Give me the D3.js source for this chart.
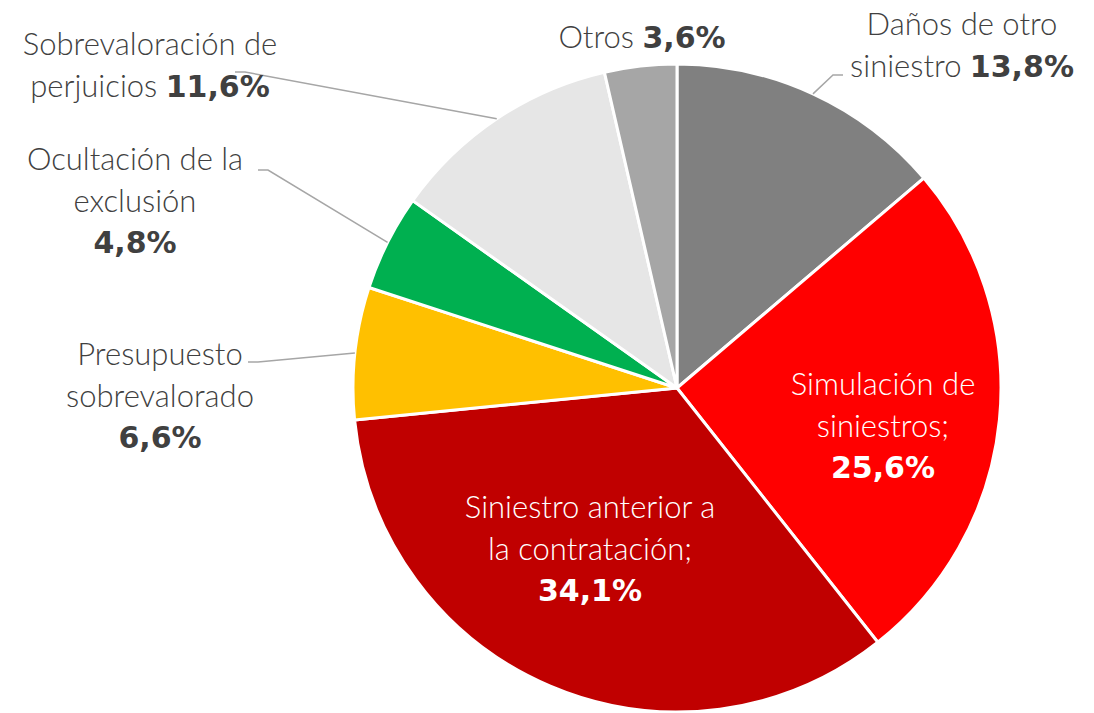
<!DOCTYPE html>
<html>
<head>
<meta charset="utf-8">
<script src="https://cdn.jsdelivr.net/npm/d3@7"></script>
<style>
  body { margin: 0; background: #fff; }
  svg text { font-family: Lato, "Open Sans", sans-serif; }
</style>
</head>
<body>
<div class="chart"></div>
<script>
const width = 1094;
const height = 713;

// data
const categories = [
  'Daños de otro siniestro',
  'Simulación de siniestros',
  'Siniestro anterior a la contratación',
  'Presupuesto sobrevalorado',
  'Ocultación de la exclusión',
  'Sobrevaloración de perjuicios',
  'Otros'
];
const values = [13.8, 25.6, 34.1, 6.6, 4.8, 11.6, 3.6];
const colors = ['#808080', '#ff0000', '#c00000', '#ffc000', '#00b050', '#e6e6e6', '#a6a6a6'];

// label text lines; "%" marks where the bold value goes
const labelLines = [
  ['Daños de otro', 'siniestro %'],
  ['Simulación de', 'siniestros;', '%'],
  ['Siniestro anterior a', 'la contratación;', '%'],
  ['Presupuesto', 'sobrevalorado', '%'],
  ['Ocultación de la', 'exclusión', '%'],
  ['Sobrevaloración de', 'perjuicios %'],
  ['Otros %']
];

// layout
const cx = 677, cy = 388, radius = 324;
const fontSize = 31;
const lineHeight = 41.5;
// label centre x, first baseline y, inside?, leader start (label side)
const labelPos = [
  { x: 962, y: 35, inside: false, leader: [843, 75] },
  { x: 883, y: 395, inside: true },
  { x: 590, y: 518, inside: true },
  { x: 160, y: 365, inside: false, leader: [248, 362] },
  { x: 135, y: 170, inside: false, leader: [258, 170] },
  { x: 150, y: 55, inside: false, leader: [235, 72] },
  { x: 642, y: 48, inside: false }
];

const fmt = v => d3.format('.1f')(v).replace('.', ',') + '%';

const svg = d3.select('.chart')
  .append('svg')
  .attr('width', width)
  .attr('height', height);

const pie = d3.pie().sort(null).value(d => d);
const arcs = pie(values);
const arc = d3.arc().innerRadius(0).outerRadius(radius);

const g = svg.append('g').attr('transform', `translate(${cx},${cy})`);

g.selectAll('path')
  .data(arcs)
  .enter()
  .append('path')
  .attr('d', arc)
  .attr('fill', (d, i) => colors[i])
  .attr('stroke', '#fff')
  .attr('stroke-width', 3)
  .attr('stroke-linejoin', 'round');

// leader lines from label to slice edge at mid angle
const edgePoint = d => {
  const a = (d.startAngle + d.endAngle) / 2;
  return [cx + radius * Math.sin(a), cy - radius * Math.cos(a)];
};

arcs.forEach((d, i) => {
  const p = labelPos[i];
  if (!p.leader) return;
  const e = edgePoint(d);
  const elbowX = p.leader[0] + (e[0] > p.leader[0] ? 10 : -10);
  svg.append('polyline')
    .attr('points', [p.leader, [elbowX, p.leader[1]], e].map(q => q.join(',')).join(' '))
    .attr('fill', 'none')
    .attr('stroke', '#a6a6a6')
    .attr('stroke-width', 1.5);
});

// labels
arcs.forEach((d, i) => {
  const p = labelPos[i];
  const t = svg.append('text')
    .attr('text-anchor', 'middle')
    .attr('font-size', fontSize)
    .attr('font-weight', 300)
    .attr('fill', p.inside ? '#fff' : '#404040');
  labelLines[i].forEach((line, j) => {
    const parts = line.split('%');
    const ln = t.append('tspan')
      .attr('x', p.x)
      .attr('y', p.y + j * lineHeight);
    if (parts[0]) ln.append('tspan').text(parts[0]);
    if (parts.length > 1) {
      ln.append('tspan')
        .attr('font-family', '"DejaVu Sans", sans-serif')
        .attr('font-weight', 700)
        .attr('font-size', fontSize - 1)
        .text(fmt(values[i]));
    }
  });
});
</script>
</body>
</html>
